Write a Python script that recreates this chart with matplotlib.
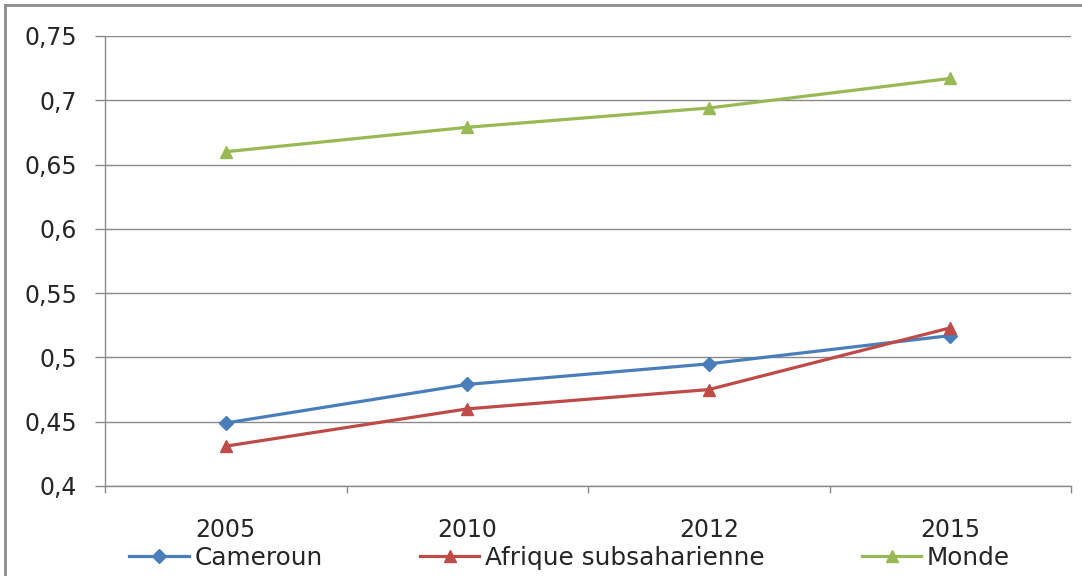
import numpy as np
import matplotlib.pyplot as plt
from matplotlib.lines import Line2D
from matplotlib.ticker import FuncFormatter

# Data
years = ['2005', '2010', '2012', '2015']
cameroun = [0.449, 0.479, 0.495, 0.517]
afrique = [0.431, 0.460, 0.475, 0.523]
monde = [0.660, 0.679, 0.694, 0.717]
yticks = [0.4, 0.45, 0.5, 0.55, 0.6, 0.65, 0.7, 0.75]

W, H = 1082, 576
font_size = 17
plt.rc('font', family='DejaVu Sans', size=font_size)
fig = plt.figure(figsize=(W / 100., H / 100.), dpi=100)

# Plot area in pixels -> figure fractions
left, right, top, bottom = 105, 1071, 36, 486
ax = fig.add_axes([left / W, 1 - bottom / H, (right - left) / W, (bottom - top) / H])

# Outer chart frame, only top and left edges are visible in the reference
frame_col = '#8c8c8c'
fig.lines.append(Line2D([5 / W, 5 / W], [0, 1 - 5 / H], transform=fig.transFigure,
                        color=frame_col, linewidth=2))
fig.lines.append(Line2D([5 / W, 1], [1 - 5 / H, 1 - 5 / H], transform=fig.transFigure,
                        color=frame_col, linewidth=2))

x = np.arange(len(years))
ax.plot(x, cameroun, color='#4a7ebb', lw=2.3, marker='D', ms=7, label='Cameroun')
ax.plot(x, afrique, color='#be4b48', lw=2.3, marker='^', ms=9, label='Afrique subsaharienne')
ax.plot(x, monde, color='#98b954', lw=2.3, marker='^', ms=9, label='Monde')

ax.set_xlim(-0.5, len(years) - 0.5)
ax.set_ylim(0.4, 0.75)
ax.set_yticks(yticks)
ax.yaxis.set_major_formatter(FuncFormatter(lambda v, p: ('%g' % round(v, 2)).replace('.', ',')))
ax.yaxis.grid(True, color='#8a8a8a', linewidth=1)
ax.set_axisbelow(True)

# Category ticks at boundaries, labels at centres
ax.set_xticks(np.arange(len(years) + 1) - 0.5)
ax.set_xticklabels([])
ax.set_xticks(x, minor=True)
ax.set_xticklabels(years, minor=True)
ax.tick_params(axis='x', which='minor', length=0, pad=23, colors='#262626')
ax.tick_params(axis='x', which='major', length=5, color='#8a8a8a', width=1)
ax.tick_params(axis='y', length=7, width=1, pad=13, colors='#262626')
ax.tick_params(axis='y', color='#8a8a8a')

for s in ['top', 'right']:
    ax.spines[s].set_visible(False)
for s in ['left', 'bottom']:
    ax.spines[s].set_color('#8a8a8a')
    ax.spines[s].set_linewidth(1)

leg_size = 17.8
leg = fig.legend(loc='center', bbox_to_anchor=(0.5265, 1 - 558 / H), ncol=3, frameon=False,
                 handlelength=2.4, handletextpad=0.22, columnspacing=3.95,
                 borderpad=0, fontsize=leg_size)
for t in leg.get_texts():
    t.set_color('#262626')

plt.savefig('out.png', dpi=100)
